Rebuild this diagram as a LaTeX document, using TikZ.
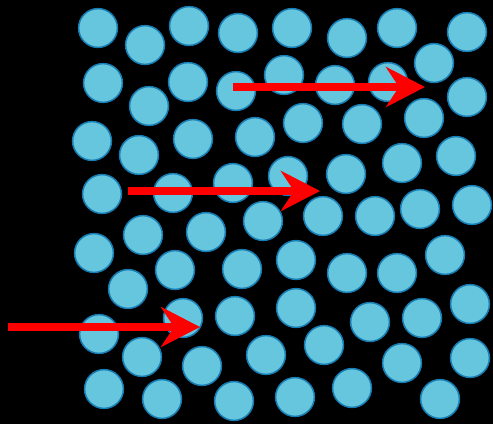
\documentclass[tikz,border=0pt]{standalone}
\usetikzlibrary{arrows.meta}
\definecolor{ballfill}{RGB}{102,198,222}
\definecolor{ballline}{RGB}{22,125,180}
\begin{document}
\begin{tikzpicture}[x=1pt,y=-1pt,
  ball/.style={circle,draw=ballline,fill=ballfill,line width=1.5pt,minimum size=38.8pt,inner sep=0pt},
  flow/.style={draw=red,line width=8pt,-{Stealth[length=39pt,width=40pt,inset=13pt]}}]
\fill[black] (0,0) rectangle (493,424);
\useasboundingbox (0,0) rectangle (493,424);
\foreach \x/\y [count=\i] in {98/28,145/45,189/26,238/33,292/28,347/38,397/28,467/32,
  103/83,149/106,188/82,236/91,284/75,335/85,388/82,434/63,467/97,
  92/141,139/155,193/139,255/137,303/123,362/124,424/118,456/156,
  102/194,173/193,233/183,288/176,346/174,402/163,472/205,
  94/253,143/235,206/232,263/221,323/216,375/216,420/209,445/255,
  128/289,175/270,242/269,296/260,347/273,397/273,
  99/334,183/318,235/316,296/308,370/322,422/318,470/304,
  142/357,202/366,266/355,324/345,402/363,470/358,
  104/389,162/399,234/401,295/397,352/388,440/399}
  \node[ball] (b\i) at (\x,\y) {};
\coordinate (a1s) at (233,87);
\coordinate (a1e) at (425,87);
\coordinate (a2s) at (128,191);
\coordinate (a2e) at (320,191);
\coordinate (a3s) at (8,327);
\coordinate (a3e) at (200,327);
\draw[flow] (a1s) -- (a1e);
\draw[flow] (a2s) -- (a2e);
\draw[flow] (a3s) -- (a3e);
\end{tikzpicture}
\end{document}
